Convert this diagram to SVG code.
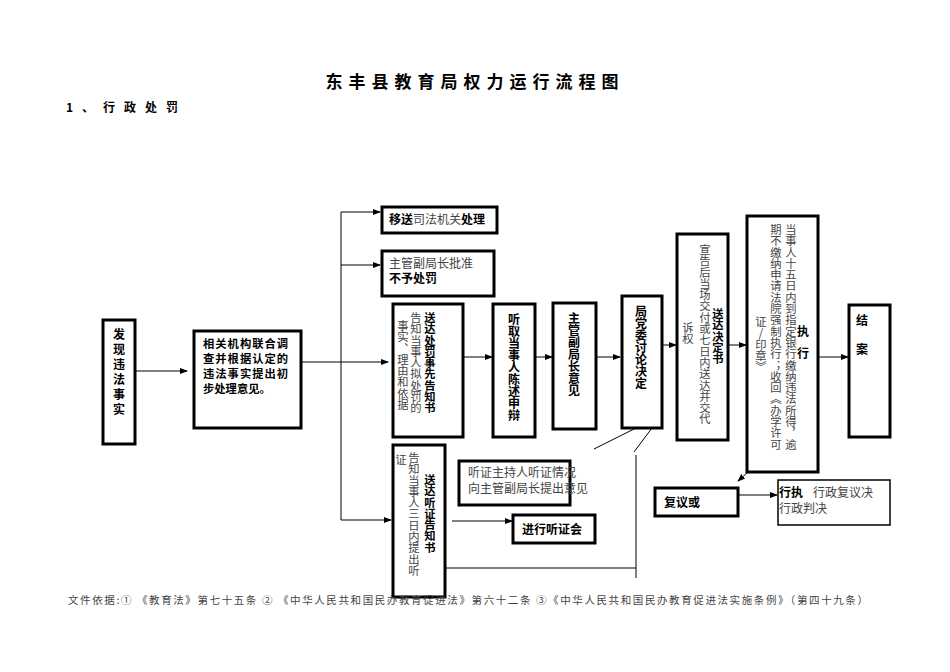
<svg xmlns="http://www.w3.org/2000/svg" width="950" height="672" viewBox="0 0 950 672">
<style>
text{font-family:"Noto Sans CJK SC","Liberation Sans",sans-serif;font-size:12px;fill:#000}
.b{font-weight:bold}
.g{fill:#444}
.v{writing-mode:vertical-rl;text-orientation:upright;letter-spacing:0px}
.s{font-size:11.3px}
.box{fill:#fff;stroke:#000;stroke-width:3}
.ln{stroke:#000;stroke-width:1;fill:none}
</style>
<defs><marker id="a" markerWidth="8" markerHeight="8" refX="7" refY="4" orient="auto" markerUnits="userSpaceOnUse"><path d="M0,1L8,4L0,7z" fill="#000"/></marker></defs>
<rect width="950" height="672" fill="#fff"/>
<text x="475" y="88" text-anchor="middle" class="b" style="font-size:17px;letter-spacing:6px">东丰县教育局权力运行流程图</text>
<text x="66" y="112" class="b" style="font-size:12px;letter-spacing:9px">1、行政处罚</text>
<g id="connectors">
<path class="ln" d="M136,371H187" marker-end="url(#a)"/>
<path class="ln" d="M301,362H388" marker-end="url(#a)"/>
<path class="ln" d="M341,212V520"/>
<path class="ln" d="M341,212H380" marker-end="url(#a)"/>
<path class="ln" d="M341,265H380" marker-end="url(#a)"/>
<path class="ln" d="M341,520H391" marker-end="url(#a)"/>
<path class="ln" d="M463,357H492" marker-end="url(#a)"/>
<path class="ln" d="M535,357H552" marker-end="url(#a)"/>
<path class="ln" d="M596,357H620" marker-end="url(#a)"/>
<path class="ln" d="M662,345H676" marker-end="url(#a)"/>
<path class="ln" d="M728,345H746" marker-end="url(#a)"/>
<path class="ln" d="M818,357H848" marker-end="url(#a)"/>
<path class="ln" d="M452,521H512" marker-end="url(#a)"/>
<path class="ln" d="M636,428L594,449M652,428L634,452M636,455V578M445,568H636"/>
<path class="ln" d="M748,472L738,481" marker-end="url(#a)"/>
<path class="ln" d="M738,495H777" marker-end="url(#a)" stroke="#666"/>
</g>
<g id="n1"><rect class="box" x="103" y="320" width="32" height="124"/><text class="v b" x="119" y="328" style="letter-spacing:3px">发现违法事实</text></g>
<g id="n2"><rect class="box" x="194" y="331" width="107" height="97"/>
<text x="203" y="348" class="b s" style="letter-spacing:1px">相关机构联合调</text><text x="203" y="363" class="b s" style="letter-spacing:1px">查并根据认定的</text><text x="203" y="378" class="b s" style="letter-spacing:1px">违法事实提出初</text><text x="203" y="393" class="b s">步处理意见。</text></g>
<g id="n3"><rect class="box" x="382" y="207" width="115" height="26"/><text x="389" y="224"><tspan class="b">移送</tspan><tspan class="g">司法机关</tspan><tspan class="b">处理</tspan></text></g>
<g id="n4"><rect class="box" x="382" y="251" width="112" height="45"/><text x="389" y="268" class="g">主管副局长批准</text><text x="389" y="283" class="b">不予处罚</text></g>
<g id="n5"><rect class="box" x="393" y="304" width="70" height="133"/>
<text class="v b s" x="430" y="312">送达处罚事先告知书</text><text class="v g s" x="416" y="312">告知当事人拟处罚的</text><text class="v g s" x="403" y="320">事实、理由和依据</text></g>
<g id="n6"><rect class="box" x="493" y="304" width="42" height="133"/><text class="v b" x="514" y="313">听取当事人陈述申辩</text></g>
<g id="n7"><rect class="box" x="553" y="303" width="43" height="126"/><text class="v b" x="574" y="312">主管副局长意见</text></g>
<g id="n8"><rect class="box" x="622" y="296" width="40" height="132"/><text class="v b" x="641" y="305">局党委讨论决定</text></g>
<g id="n9"><rect class="box" x="677" y="234" width="51" height="206"/>
<text class="v g s" x="705" y="244">宣告后当场交付或七日内送达并交代</text><text class="v b s" x="718" y="308">送达决定书</text><text class="v g s" x="688" y="322">诉权</text></g>
<g id="n10"><rect class="box" x="747" y="216" width="71" height="256"/>
<text class="v g s" x="791" y="224">当事人十五日内到指定银行缴纳违法所得，逾</text><text class="v g s" x="776" y="224">期不缴纳申请法院强制执行；收回《办学许可</text><text class="v g s" x="761" y="316">证/印章》</text><text class="v b" x="803" y="325" style="letter-spacing:10px">执行</text></g>
<g id="n11"><rect class="box" x="849" y="305" width="41" height="132"/><text x="856" y="325" class="b">结</text><text x="856" y="354" class="b">案</text></g>
<g id="n12"><rect class="box" x="393" y="445" width="52" height="152"/>
<text class="v b s" x="430" y="474">送达听证告知书</text><text class="v g s" x="414" y="452">告知当事人三日内提出听</text><text class="v g s" x="401" y="454">证</text></g>
<g id="n13"><rect class="box" x="459" y="461" width="111" height="44"/><text x="468" y="477" class="g">听证主持人听证情况</text><text x="468" y="493" class="g">向主管副局长提出意见</text></g>
<g id="n14"><rect class="box" x="513" y="515" width="82" height="28"/><text x="522" y="534" class="b">进行听证会</text></g>
<g id="n15"><rect class="box" x="655" y="488" width="83" height="28"/><text x="664" y="507" class="b">复议或</text></g>
<g id="n16"><rect x="778" y="480" width="112" height="45" fill="#fff" stroke="#000" stroke-width="1.5"/><text x="779" y="497"><tspan class="b">行执</tspan><tspan class="g" dx="10">行政复议决</tspan></text><text x="779" y="513" class="g">行政判决</text></g>
<text x="68" y="604" class="g" style="font-size:10.5px;letter-spacing:1.6px">文件依据:①  《教育法》第七十五条   ②   《中华人民共和国民办教育促进法》第六十二条   ③《中华人民共和国民办教育促进法实施条例》（第四十九条）</text>
</svg>
